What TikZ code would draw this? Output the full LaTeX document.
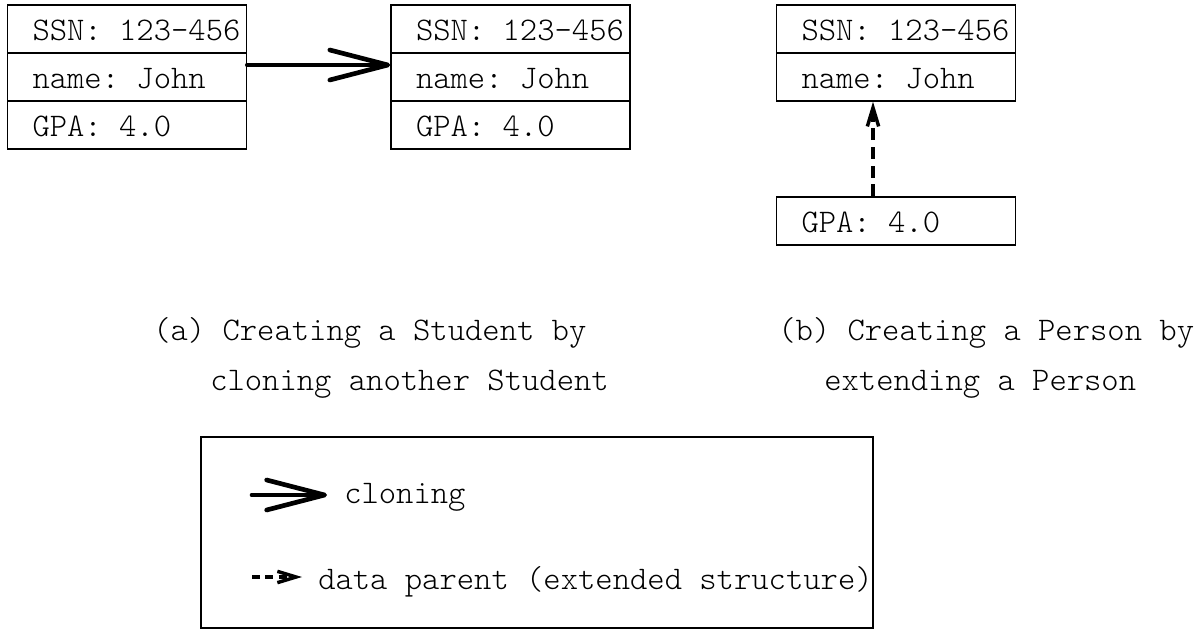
\documentclass[tikz,border=0pt]{standalone}
\usepackage{fontspec}
\setmonofont{lmmonolt10-regular.otf}
\usetikzlibrary{arrows.meta}
% fixed-width slot for the text inside one record cell
\newcommand\celltext[1]{\makebox[141.75pt][l]{#1}}
\begin{document}
\begin{tikzpicture}[x=0.75pt,y=-0.75pt,
  font=\ttfamily\fontsize{24.75pt}{30pt}\selectfont,
  cell/.style={draw, line width=1.2pt, inner xsep=18.75pt, inner ysep=0pt,
    text height=27pt, text depth=9pt, minimum height=36pt},
  lbl/.style={anchor=base west, inner sep=0pt},
  clone/.style={line width=3.5pt, line cap=round,
    -{Straight Barb[length=43.5pt,width=22.5pt,round]}},
  parent/.style={line width=2.6pt, dash pattern=on 9pt off 5pt,
    -{Straight Barb[length=14pt,width=8.5pt]}},
  legendbox/.style={draw, line width=1.2pt, minimum width=504pt,
    minimum height=143.25pt, inner sep=0pt},
]
\useasboundingbox (0,0) rectangle (1201,630);

% (a) original Student record
\node[cell] (a1) at (127,29)  {\celltext{SSN: 123–456}};
\node[cell] (a2) at (127,77)  {\celltext{name: John}};
\node[cell] (a3) at (127,125) {\celltext{GPA: 4.0}};

% (a) cloned Student record
\node[cell] (b1) at (510.5,29)  {\celltext{SSN: 123–456}};
\node[cell] (b2) at (510.5,77)  {\celltext{name: John}};
\node[cell] (b3) at (510.5,125) {\celltext{GPA: 4.0}};

\draw[clone] ([yshift=9pt]a2.east) -- ([yshift=9pt]b2.west);

% (b) Person record and its extension
\node[cell] (c1) at (896,29) {\celltext{SSN: 123–456}};
\node[cell] (c2) at (896,77) {\celltext{name: John}};
\node[cell] (d)  at (896,221) {\celltext{GPA: 4.0}};

\draw[parent] ([xshift=-17.25pt]d.north) -- ([xshift=-17.25pt]c2.south);

% captions
\node[lbl] (capa1) at (153,341) {(a) Creating a Student by};
\node[lbl] (capa2) at (210,390) {cloning another Student};
\node[lbl] (capb1) at (778,341) {(b) Creating a Person by};
\node[lbl] (capb2) at (824,390) {extending a Person};

% legend
\node[legendbox] (legend) at (537,532.5) {};
\coordinate (l1s) at (252,495);
\coordinate (l1e) at (327,495);
\coordinate (l2s) at (252,577);
\coordinate (l2e) at (302,577);
\draw[clone] (l1s) -- (l1e);
\draw[parent, dash pattern=on 6pt off 4pt] (l2s) -- (l2e);
\node[lbl] (lcl) at (344,503) {cloning};
\node[lbl] (ldp) at (318,589) {data parent (extended structure)};
\end{tikzpicture}
\end{document}
